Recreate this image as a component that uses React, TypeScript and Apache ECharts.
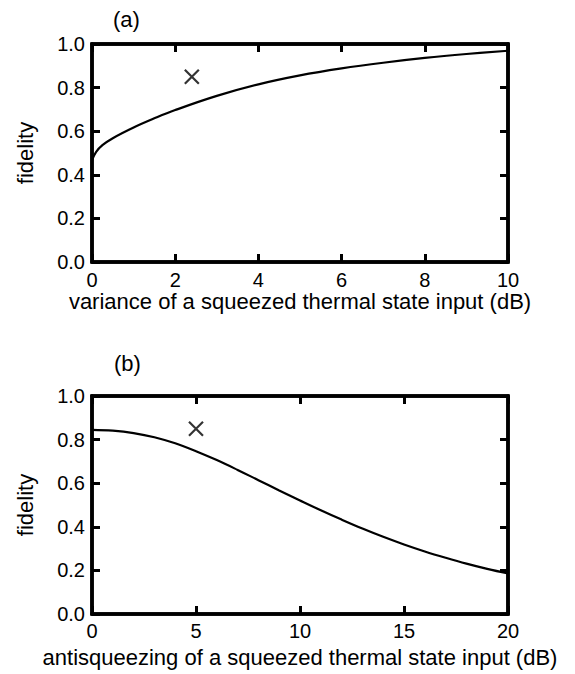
import React, { useEffect, useRef } from "react";
import * as echarts from "echarts";

// Panel (a): fidelity vs variance of a squeezed thermal state input (dB)
const varianceDb = [0, 0.1, 0.25, 0.5, 1, 1.5, 2, 3, 4, 5, 6, 7, 8, 9, 10];
const fidelityA = [0.467, 0.505, 0.536, 0.568, 0.617, 0.659, 0.697, 0.762, 0.815, 0.856, 0.888, 0.914, 0.936, 0.954, 0.969];
const markA = [[2.4, 0.85]];

// Panel (b): fidelity vs antisqueezing of a squeezed thermal state input (dB)
const antisqueezingDb = [0, 1, 2, 3, 4, 5, 6, 7, 8, 9, 10, 11, 12, 13, 14, 15, 16, 17, 18, 19, 20];
const fidelityB = [0.845, 0.841, 0.83, 0.811, 0.783, 0.747, 0.706, 0.661, 0.614, 0.567, 0.521, 0.476, 0.433, 0.392, 0.354, 0.319, 0.287, 0.258, 0.231, 0.207, 0.186];
const markB = [[5, 0.85]];

const yTicks = [0, 0.2, 0.4, 0.6, 0.8, 1.0];
const panelLabels = ["(a)", "(b)"];
const xNames = [
  "variance of a squeezed thermal state input (dB)",
  "antisqueezing of a squeezed thermal state input (dB)",
];
const yName = "fidelity";

const FONT = "Liberation Sans, Arial, Helvetica, sans-serif";

export default function App() {
  const ref = useRef<HTMLDivElement>(null);
  useEffect(() => {
    if (!ref.current) return;
    const chart = echarts.init(ref.current, null, { renderer: "svg" });

    const mkLine = () => ({ color: "#000", width: 3.5 });
    const mkTick = () => ({ show: true, inside: true, length: 8, lineStyle: { color: "#000", width: 3 } });
    const labelStyle = { color: "#000", fontSize: 20, fontFamily: FONT };
    const nameStyle = { color: "#000", fontSize: 22, fontFamily: FONT };

    const mkX = (grid: number, max: number, interval: number, name: string, gap: number, margin: number) => [
      {
        type: "value",
        gridIndex: grid,
        position: "bottom",
        min: 0,
        max,
        interval,
        name,
        nameLocation: "middle",
        nameGap: gap,
        nameTextStyle: nameStyle,
        axisLine: { show: true, onZero: false, lineStyle: mkLine() },
        axisTick: mkTick(),
        axisLabel: { ...labelStyle, margin, showMinLabel: true, showMaxLabel: true },
        splitLine: { show: false },
      },
      {
        type: "value",
        gridIndex: grid,
        position: "top",
        min: 0,
        max,
        interval,
        axisLine: { show: true, onZero: false, lineStyle: mkLine() },
        axisTick: mkTick(),
        axisLabel: { show: false },
        splitLine: { show: false },
      },
    ];
    const mkY = (grid: number) => [
      {
        type: "value",
        gridIndex: grid,
        position: "left",
        min: 0,
        max: 1,
        interval: 0.2,
        name: yName,
        nameLocation: "middle",
        nameGap: 56,
        nameTextStyle: nameStyle,
        axisLine: { show: true, onZero: false, lineStyle: mkLine() },
        axisTick: mkTick(),
        axisLabel: {
          ...labelStyle,
          margin: 7,
          showMinLabel: true,
          showMaxLabel: true,
          formatter: (v: number) => {
            const t = yTicks.find((k) => Math.abs(k - v) < 1e-6);
            return (t !== undefined ? t : v).toFixed(1);
          },
        },
        splitLine: { show: false },
      },
      {
        type: "value",
        gridIndex: grid,
        position: "right",
        min: 0,
        max: 1,
        interval: 0.2,
        axisLine: { show: true, onZero: false, lineStyle: mkLine() },
        axisTick: mkTick(),
        axisLabel: { show: false },
        splitLine: { show: false },
      },
    ];

    const crossSymbol = "path://M0,0L10,10M10,0L0,10";

    chart.setOption({
      animation: false,
      backgroundColor: "#fff",
      textStyle: { fontFamily: FONT },
      grid: [
        { left: 92, top: 44, width: 416, height: 218, show: true, borderColor: "#000", borderWidth: 3.5, backgroundColor: "transparent", outerBoundsMode: "none", containLabel: false },
        { left: 92, top: 396, width: 416, height: 218, show: true, borderColor: "#000", borderWidth: 3.5, backgroundColor: "transparent", outerBoundsMode: "none", containLabel: false },
      ],
      xAxis: [
        ...mkX(0, 10, 2, xNames[0], 27, 8),
        ...mkX(1, 20, 5, xNames[1], 32, 7),
      ],
      yAxis: [...mkY(0), ...mkY(1)],
      graphic: [
        { type: "text", left: 113, top: 8, style: { text: panelLabels[0], fontSize: 22, fontFamily: FONT, fill: "#000" } },
        { type: "text", left: 114, top: 352, style: { text: panelLabels[1], fontSize: 22, fontFamily: FONT, fill: "#000" } },
      ],
      series: [
        {
          type: "line",
          xAxisIndex: 0,
          yAxisIndex: 0,
          data: varianceDb.map((x, i) => [x, fidelityA[i]]),
          smooth: 0.4,
          symbol: "none",
          lineStyle: { color: "#000", width: 2.2 },
        },
        {
          type: "scatter",
          xAxisIndex: 0,
          yAxisIndex: 0,
          data: markA,
          symbol: crossSymbol,
          symbolSize: 14,
          itemStyle: { color: "none", borderColor: "#000", borderWidth: 2.2 },
        },
        {
          type: "line",
          xAxisIndex: 2,
          yAxisIndex: 2,
          data: antisqueezingDb.map((x, i) => [x, fidelityB[i]]),
          smooth: 0.4,
          symbol: "none",
          lineStyle: { color: "#000", width: 2.2 },
        },
        {
          type: "scatter",
          xAxisIndex: 2,
          yAxisIndex: 2,
          data: markB,
          symbol: crossSymbol,
          symbolSize: 14,
          itemStyle: { color: "none", borderColor: "#000", borderWidth: 2.2 },
        },
      ],
    });
    return () => chart.dispose();
  }, []);
  return (
    <div
      ref={ref}
      style={{ position: "absolute", left: 0, top: 0, width: 575, height: 674 }}
    />
  );
}
